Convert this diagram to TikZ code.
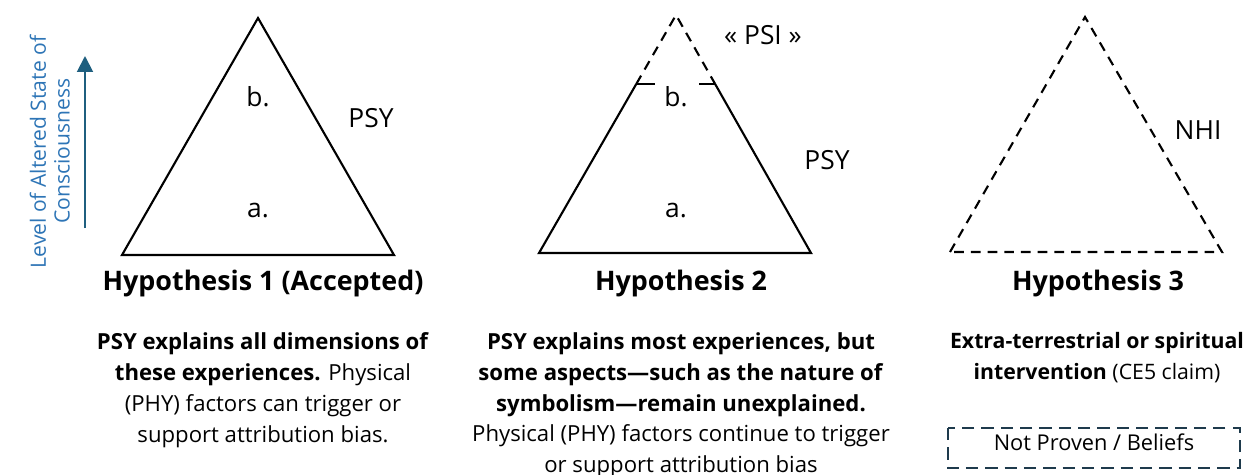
\documentclass[tikz,border=0pt]{standalone}
\usepackage{fontspec}
\setmainfont{Open Sans}
\usepackage{tikz}
\usetikzlibrary{arrows.meta,positioning,calc}

\definecolor{axisteal}{HTML}{1F5F7F}
\definecolor{axisblue}{HTML}{2E75B6}
\definecolor{boxnavy}{HTML}{1E3A4C}

\begin{document}
\begin{tikzpicture}[
  x=0.02cm, y=-0.02cm,
  every node/.style={inner sep=0pt, text=black},
  tri/.style={line width=1.2pt, line join=miter},
  tridash/.style={line width=1.2pt, dash pattern=on 5.5pt off 4pt},
  lbl/.style={font=\fontsize{15}{18}\selectfont},
  axtext/.style={rotate=90, text=axisblue, font=\fontsize{12}{14}\selectfont},
  title/.style={font=\fontsize{15.3}{18}\selectfont\bfseries},
  desc/.style={font=\fontsize{12.6}{17.6}\selectfont, align=center},
]
\useasboundingbox (0,0) rectangle (1248,474);

%% ── Axis: level of altered state ───────────────────────────────────────────
\coordinate (axlo) at (85,228);
\coordinate (axhi) at (85,56);
\draw[axisteal, line width=1.1pt, -{Triangle[length=9pt,width=9pt]}] (axlo) -- (axhi);
\node[axtext] (axline1) at (38,152) {Level of Altered State of};
\node[axtext] (axline2) at (62,151) {Consciousness};

%% ── Hypothesis 1 ───────────────────────────────────────────────────────────
\coordinate (h1top) at (258,18);
\coordinate (h1l) at (122,255);
\coordinate (h1r) at (394,255);
\draw[tri] (h1l) -- (h1top) -- (h1r) -- cycle;
\node[lbl] (h1b) at (258,97) {b.};
\node[lbl] (h1a) at (258,211) {a.};
\node[lbl] (h1psy) at (371,118) {PSY};
\node[title] (h1title) at (263,284) {Hypothesis 1 (Accepted)};
\node[desc, anchor=north] (h1desc) at (263,332)
  {\textbf{PSY explains all dimensions of}\\
   \textbf{these experiences.} Physical\\
   (PHY) factors can trigger or\\
   support attribution bias.};

%% ── Hypothesis 2 ───────────────────────────────────────────────────────────
\coordinate (h2top) at (676,15);
\coordinate (h2l) at (539,253);
\coordinate (h2r) at (811,253);
\coordinate (h2cl) at ($(h2l)!0.71!(h2top)$);
\coordinate (h2cr) at ($(h2r)!0.71!(h2top)$);
\draw[tri] (h2cl) -- (h2l) -- (h2r) -- (h2cr);
\draw[tridash] (h2cl) -- (h2top) -- (h2cr);
\draw[line width=0.9pt] (h2cl) -- ++(19,0);
\draw[line width=0.9pt] (h2cr) -- ++(-16,0);
\node[lbl] (h2b) at (676,97) {b.};
\node[lbl] (h2a) at (676,211) {a.};
\node[lbl] (h2psy) at (827,160) {PSY};
\node[lbl] (h2psi) at (763,35) {« PSI »};
\node[title] (h2title) at (681,284) {Hypothesis 2};
\node[desc, anchor=north] (h2desc) at (681,332)
  {\textbf{PSY explains most experiences, but}\\
   \textbf{some aspects---such as the nature of}\\
   \textbf{symbolism---remain unexplained.}\\
   Physical (PHY) factors continue to trigger\\
   or support attribution bias};

%% ── Hypothesis 3 ───────────────────────────────────────────────────────────
\coordinate (h3top) at (1085,17);
\coordinate (h3l) at (950,252);
\coordinate (h3r) at (1222,252);
\draw[tridash] (h3l) -- (h3top) -- (h3r) -- cycle;
\node[lbl] (h3nhi) at (1198,130) {NHI};
\node[title] (h3title) at (1098,284) {Hypothesis 3};
\node[desc, anchor=north, font=\fontsize{12.1}{17.6}\selectfont] (h3desc) at (1097,332)
  {\textbf{Extra-terrestrial or spiritual}\\
   \textbf{intervention} (CE5 claim)};

%% Belief box
\draw[boxnavy, line width=1.4pt, dash pattern=on 7pt off 4pt]
  (948,428) rectangle (1240,468);
\node[font=\fontsize{12.4}{14}\selectfont] (h3box) at (1094,442) {Not Proven / Beliefs};

\end{tikzpicture}
\end{document}
